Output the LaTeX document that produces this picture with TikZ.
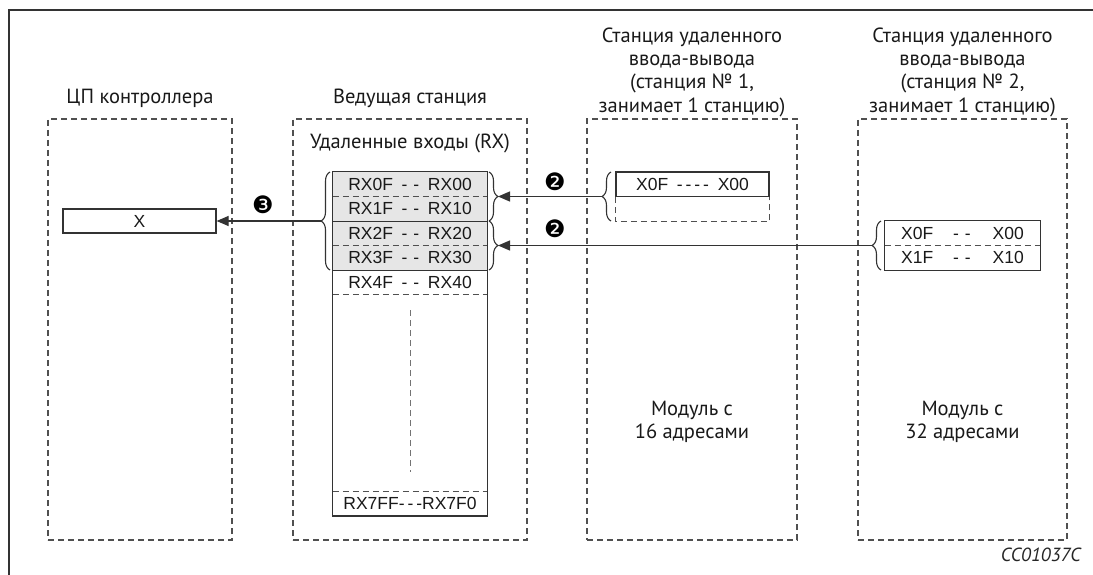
\documentclass[tikz,border=0pt]{standalone}
\usepackage{fontspec}
\setmainfont{PT Sans}
\newfontfamily\arialfont{Liberation Sans}
\newfontfamily\symfont{DejaVu Sans}
\usetikzlibrary{arrows.meta,decorations.pathreplacing}

\definecolor{linegray}{HTML}{333333}
\definecolor{dashgray}{HTML}{505050}
\definecolor{cellgray}{HTML}{E6E6E6}

\begin{document}
\begin{tikzpicture}[
        x=1pt, y=-1pt,
        station/.style={draw=dashgray, dash pattern=on 6pt off 4pt, line width=1.2pt, inner sep=0pt, minimum height=421pt},
        title/.style={font=\fontsize{20.5}{23.3}\selectfont, align=center, anchor=south, inner sep=0pt, text=black!90},
        cell/.style={minimum width=154pt, minimum height=24.5pt, inner sep=0pt, text=black!90, font=\arialfont\fontsize{17.5}{19}\selectfont},
        sep/.style={draw=dashgray, dash pattern=on 6pt off 4pt, line width=1.1pt},
        wall/.style={draw=linegray, line width=1.2pt},
        curly/.style={draw=linegray, line width=1.1pt, decorate, decoration={brace, amplitude=9pt}},
        feed/.style={wall, -{Triangle[length=12pt, width=10pt]}},
        badge/.style={font=\symfont\fontsize{24}{24}\selectfont, inner sep=0pt}
    ]

    \useasboundingbox (0,0) rectangle (1093,575);

    % Outer frame (top and left only)
    \draw[draw=linegray, line width=1.3pt] (1093,10) -- (9,10) -- (9,575);

    % Stations
    \node[station, minimum width=184pt] (cpu) at (140,329.5) {};
    \node[station, minimum width=234pt] (master) at (410,329.5) {};
    \node[station, minimum width=210pt] (io1) at (692,329.5) {};
    \node[station, minimum width=209pt] (io2) at (962.5,329.5) {};

    % Titles
    \node[title] (cpuT) at (140,108) {ЦП контроллера};
    \node[title] (masterT) at (410,108) {Ведущая станция};
    \node[title] (io1T) at (692,117) {Станция удаленного\\ввода-вывода\\(станция № 1,\\занимает 1 станцию)};
    \node[title] (io2T) at (962.5,117) {Станция удаленного\\ввода-вывода\\(станция № 2,\\занимает 1 станцию)};
    \node[title, anchor=base] (rxT) at (410,149) {Удаленные входы (RX)};

    % CPU device X
    \node[cell, draw=linegray, line width=1.2pt, minimum width=153pt, minimum height=24pt] (xcell) at (139.5,221) {X};

    % Remote inputs RX table
    \fill[cellgray] (333,172) rectangle (487,270);
    \foreach \i/\t in {1/{RX0F\enspace-\,\,-\enspace RX00}, 2/{RX1F\enspace-\,\,-\enspace RX10},
                       3/{RX2F\enspace-\,\,-\enspace RX20}, 4/{RX3F\enspace-\,\,-\enspace RX30},
                       5/{RX4F\enspace-\,\,-\enspace RX40}}
        \node[cell] (rx\i) at (410,159.75+\i*24.5) {\t};
    \node[cell] (rxL) at (410,503.5) {RX7FF-\,-\,-RX7F0};
    \draw[wall] (rx1.north west) rectangle (rxL.south east);
    \draw[wall] (rx2.south west) -- (rx2.south east);
    \draw[wall] (rx4.south west) -- (rx4.south east);
    \foreach \i in {1,3,5}
        \draw[sep] (rx\i.south west) -- (rx\i.south east);
    \draw[sep] (rxL.north west) -- (rxL.north east);
    \draw[draw=dashgray!80, dash pattern=on 6pt off 4pt, line width=1pt] (410,310) -- (410,472);

    % Station 1 module
    \node[cell, draw=linegray, line width=1.2pt, minimum width=153pt] (x1a) at (692.5,184.25) {X0F\enspace-\,-\,-\,-\enspace X00};
    \draw[sep] (x1a.south west) -- ++(0,24.5) -| (x1a.south east);

    % Station 2 module
    \node[cell, minimum width=155pt] (x2a) at (962.5,233.25) {X0F\hspace{20pt}-\,\,-\hspace{22pt}X00};
    \node[cell, minimum width=155pt] (x2b) at (962.5,257.75) {X1F\hspace{20pt}-\,\,-\hspace{22pt}X10};
    \draw[wall] (x2a.north west) rectangle (x2b.south east);
    \draw[sep] (x2a.south west) -- (x2a.south east);

    % Braces
    \draw[curly] (330,270) -- (330,172);
    \draw[curly] (489,172) -- (489,221);
    \draw[curly] (489,221) -- (489,270);
    \draw[curly] (611,221) -- (611,172);
    \draw[curly] (881,270) -- (881,221);
    \coordinate (lb) at (321,221);
    \coordinate (rb1) at (498,196.5);
    \coordinate (rb2) at (498,245.5);
    \coordinate (io1b) at (602,196.5);
    \coordinate (io2b) at (872,245.5);

    % Transfers
    \draw[feed] (lb) -- (xcell.east);
    \draw[feed] (io1b) -- (rb1);
    \draw[feed] (io2b) -- (rb2);
    \node[badge] (n3) at (263,205) {❸};
    \node[badge] (n2a) at (555,182) {❷};
    \node[badge] (n2b) at (555,229) {❷};

    % Module sizes
    \node[title, anchor=center] (io1M) at (692,422) {Модуль с\\16 адресами};
    \node[title, anchor=center] (io2M) at (962.5,422) {Модуль с\\32 адресами};

    \node[anchor=base east, inner sep=0pt, text=black!85, font=\itshape\fontsize{19}{21}\selectfont] (code) at (1081,561) {CC01037C};

\end{tikzpicture}
\end{document}
